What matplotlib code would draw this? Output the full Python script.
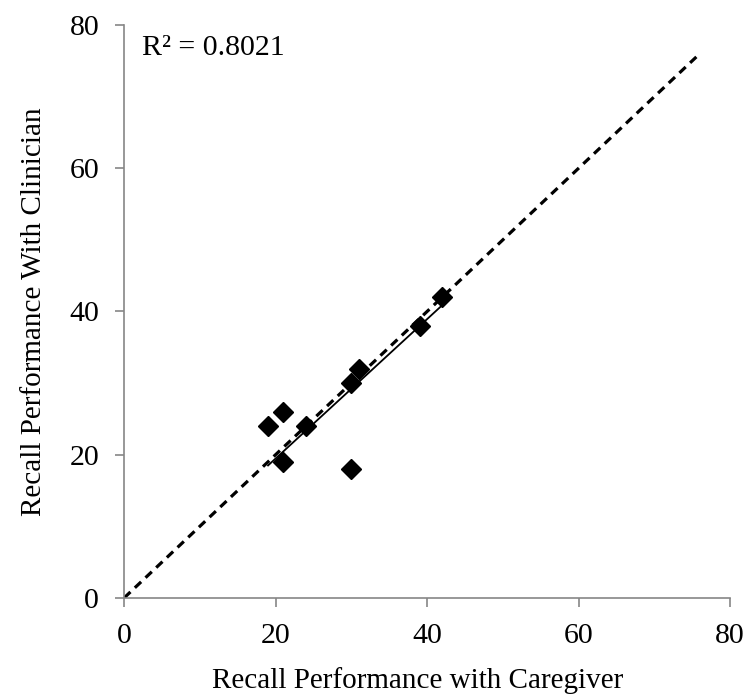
import matplotlib
matplotlib.use("Agg")

import matplotlib.pyplot as plt
import numpy as np

# recall scores per participant
caregiver = [19, 21, 21, 24, 30, 30, 31, 39, 42]
clinician = [24, 26, 19, 24, 30, 18, 32, 38, 42]
r_squared = 0.8021
identity_end = 76

axis_ticks = [0, 20, 40, 60, 80]

plt.rcParams["font.family"] = ["Liberation Serif", "DejaVu Serif"]
plt.rcParams["font.size"] = 21

fig = plt.figure(figsize=(7.48, 6.96), dpi=100)
ax = fig.add_axes([0.166, 0.141, 0.810, 0.823])

x = np.asarray(caregiver, dtype=float)
y = np.asarray(clinician, dtype=float)

# line of identity
ax.plot([0, identity_end], [0, identity_end], color="black", linestyle=(0, (2.7, 1.9)),
        linewidth=2.3, zorder=2)

# linear trendline through the origin
slope = float(np.sum(x * y) / np.sum(x * x))
xs = np.array([x.min(), x.max()])
ax.plot(xs, slope * xs, color="black", linewidth=1.3, zorder=2)

ax.plot(x, y, linestyle="none", marker="D", markersize=10, color="black", zorder=3)

ax.text(2.3, 76.8, f"R² = {r_squared:.4f}", ha="left", va="center", fontsize=21.5)

ax.set_xlim(0, 80)
ax.set_ylim(0, 80)
ax.set_xticks(axis_ticks)
ax.set_yticks(axis_ticks)

for side in ["top", "right"]:
    ax.spines[side].set_visible(False)
for side in ["left", "bottom"]:
    ax.spines[side].set_color("#868686")
    ax.spines[side].set_linewidth(1.2)

ax.tick_params(direction="out", length=6.5, width=1.2, color="#868686", labelsize=21.5, pad=11.5)

ax.set_xlabel("Recall Performance with Caregiver", fontsize=21, labelpad=13)
ax.xaxis.label.set_x(0.484)
ax.set_ylabel("Recall Performance With Clinician", fontsize=21, labelpad=16)

fig.savefig("out.png", dpi=100)
